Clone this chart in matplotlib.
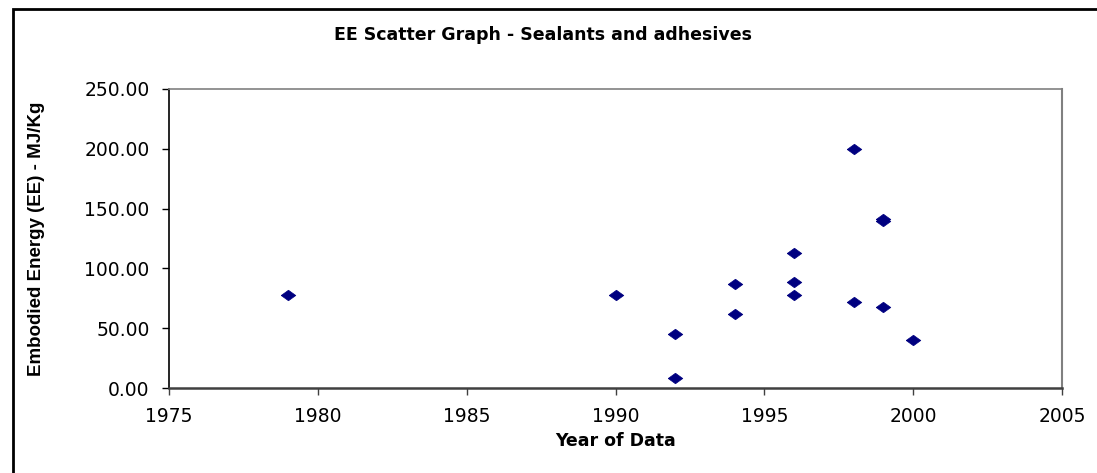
import matplotlib
matplotlib.use("Agg")
import matplotlib.pyplot as plt
from matplotlib.patches import Rectangle

# Data
years = [1979, 1990, 1992, 1992, 1994, 1994, 1996, 1996, 1996, 1998, 1998, 1999, 1999, 1999, 2000]
ee_values = [78, 78, 45, 8, 87, 62, 112.5, 89, 78, 200, 72, 140, 141, 68, 40]

x_ticks = [1975, 1980, 1985, 1990, 1995, 2000, 2005]
y_ticks = [0, 50, 100, 150, 200, 250]

title = "EE Scatter Graph - Sealants and adhesives"
x_label = "Year of Data"
y_label = "Embodied Energy (EE) - MJ/Kg"

plt.rcParams['font.family'] = ['DejaVu Sans']

W, H = 1097, 473
fig = plt.figure(figsize=(W / 100, H / 100), dpi=100)
ax = fig.add_axes([169 / W, 1 - 388 / H, (1062 - 169) / W, (388 - 89) / H])

diamond = [(-1, 0), (0, 0.72), (1, 0), (0, -0.72), (-1, 0)]
ax.plot(years, ee_values, linestyle='none', marker=diamond, markersize=10.5,
        markerfacecolor='#000080', markeredgecolor='#000080', markeredgewidth=0.5)

ax.set_xlim(1975, 2005)
ax.set_ylim(0, 250)
ax.set_xticks(x_ticks)
ax.set_xticklabels([str(t) for t in x_ticks])
ax.set_yticks(y_ticks)
ax.set_yticklabels([f"{t:.2f}" for t in y_ticks])

ax.tick_params(axis='both', direction='out', length=5, width=1, color='#000000',
               labelsize=13.5)
ax.tick_params(axis='y', pad=9)
ax.tick_params(axis='x', color='#404040', pad=9)

ax.spines['left'].set_color('#000000')
ax.spines['left'].set_linewidth(1.2)
ax.spines['bottom'].set_color('#404040')
ax.spines['bottom'].set_linewidth(1.8)
ax.spines['top'].set_color('#808080')
ax.spines['top'].set_linewidth(1.2)
ax.spines['right'].set_color('#808080')
ax.spines['right'].set_linewidth(1.5)

ax.set_xlabel(x_label, fontsize=12.5, fontweight='bold', labelpad=4)
ax.set_ylabel(y_label, fontsize=13.5, fontweight='bold',
              family=['Liberation Sans', 'DejaVu Sans'])
ax.yaxis.set_label_coords(-(169 - 45) / (1062 - 169), 0.5)

fig.text(543 / W, 1 - 35 / H, title, ha='center', va='center',
         fontsize=12.5, fontweight='bold')

# Outer chart frame (clipped by image right/bottom edges)
frame = Rectangle((13 / W, -0.1), 1.2, 1 - 9 / H + 0.1, transform=fig.transFigure,
                  fill=False, edgecolor='#000000', linewidth=2, clip_on=False)
fig.patches.append(frame)

fig.savefig("out.png", dpi=100)
